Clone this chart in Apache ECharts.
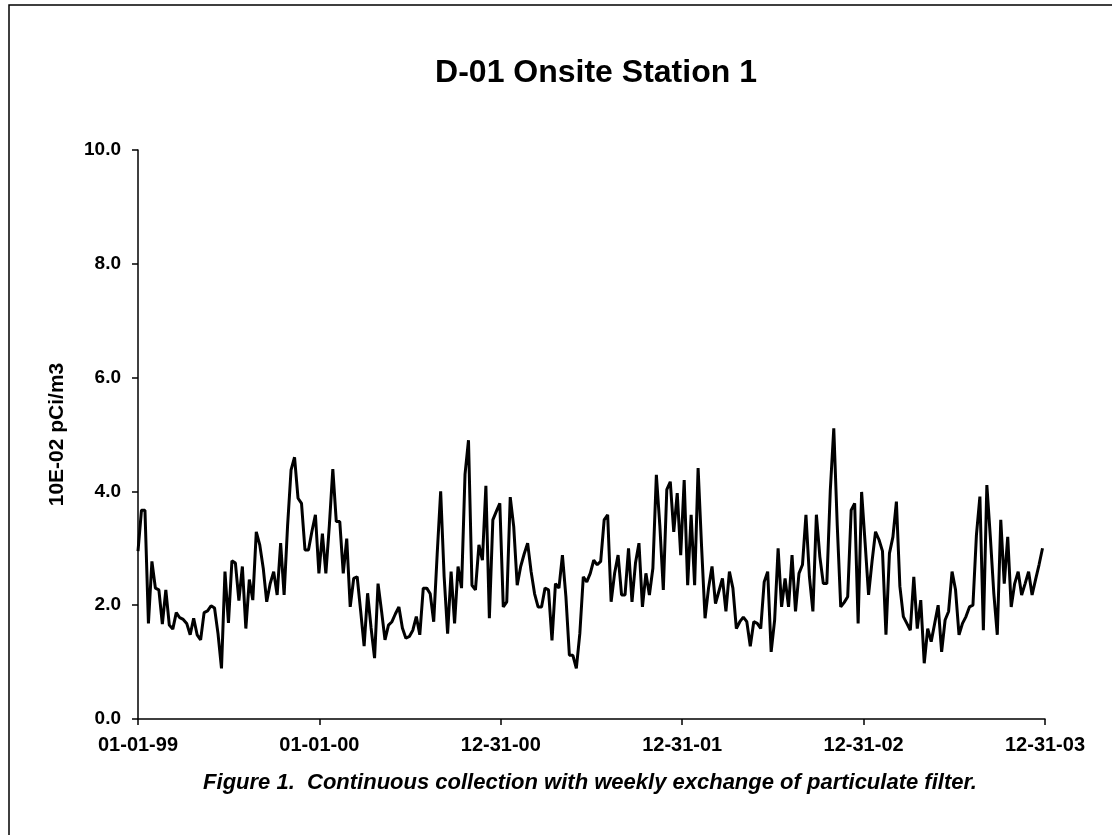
<!DOCTYPE html>
<html>
<head>
<meta charset="utf-8">
<script src="https://cdn.jsdelivr.net/npm/echarts@6/dist/echarts.min.js"></script>
<style>
html,body{margin:0;padding:0;background:#fff;}
#chart{width:1112px;height:835px;}
</style>
</head>
<body>
<div id="chart"></div>
<script>
// ---- data (weekly samples, 10E-02 pCi/m3) ----
const startDate = '1999-01-01';
const sampleIntervalDays = 7;
const xTickLabels = ['01-01-99', '01-01-00', '12-31-00', '12-31-01', '12-31-02', '12-31-03'];
const yTickValues = [0, 2, 4, 6, 8, 10];

const values1999 = [2.95, 3.67, 3.67, 1.68, 2.77, 2.3, 2.27, 1.67, 2.27, 1.65, 1.58, 1.87, 1.78, 1.75, 1.68, 1.48,
  1.77, 1.48, 1.39, 1.87, 1.9, 1.99, 1.95, 1.5, 0.89, 2.59, 1.69, 2.78, 2.74, 2.08, 2.68, 1.59, 2.45, 2.09, 3.29, 3.06,
  2.65, 2.06, 2.38, 2.59, 2.18, 3.09, 2.18, 3.4, 4.38, 4.6, 3.88, 3.79, 2.97, 2.97, 3.3, 3.59];
const values2000 = [2.56, 3.26, 2.56, 3.4, 4.39, 3.47, 3.47, 2.56, 3.17, 1.97, 2.47, 2.5, 1.9, 1.28, 2.21, 1.6,
  1.07, 2.38, 1.9, 1.39, 1.65, 1.71, 1.85, 1.97, 1.6, 1.42, 1.45, 1.56, 1.8, 1.48, 2.3, 2.3, 2.2, 1.71, 2.9, 4.0,
  2.5, 1.5, 2.59, 1.68, 2.68, 2.3, 4.3, 4.9, 2.35, 2.27, 3.06, 2.79, 4.1, 1.77, 3.5, 3.65];
const values2001 = [3.79, 1.97, 2.06, 3.9, 3.38, 2.35, 2.68, 2.9, 3.09, 2.59, 2.2, 1.97, 1.97, 2.3, 2.27, 1.38,
  2.38, 2.3, 2.88, 2.15, 1.12, 1.12, 0.89, 1.5, 2.5, 2.41, 2.56, 2.79, 2.71, 2.77, 3.5, 3.59, 2.06, 2.56, 2.88, 2.18,
  2.18, 3.0, 2.06, 2.74, 3.09, 1.97, 2.56, 2.18, 2.65, 4.29, 3.4, 2.27, 4.03, 4.17, 3.29, 3.97];
const values2002 = [2.88, 4.2, 2.35, 3.59, 2.35, 4.41, 3.03, 1.77, 2.3, 2.68, 2.03, 2.25, 2.47, 1.89, 2.59, 2.3,
  1.59, 1.71, 1.79, 1.71, 1.28, 1.71, 1.68, 1.59, 2.41, 2.59, 1.18, 1.74, 3.0, 1.97, 2.47, 1.97, 2.88, 1.89, 2.56, 2.71,
  3.59, 2.5, 1.89, 3.59, 2.85, 2.38, 2.38, 4.02, 5.11, 3.4, 1.97, 2.05, 2.15, 3.67, 3.79, 1.68];
const values2003 = [3.99, 3.1, 2.18, 2.77, 3.29, 3.15, 2.95, 1.48, 2.91, 3.2, 3.82, 2.33, 1.8, 1.68, 1.56, 2.5,
  1.59, 2.09, 0.98, 1.59, 1.36, 1.68, 2.0, 1.18, 1.74, 1.89, 2.59, 2.27, 1.48, 1.68, 1.8, 1.97, 2.0, 3.23, 3.91, 1.56,
  4.11, 3.2, 2.21, 1.48, 3.5, 2.38, 3.2, 1.97, 2.38, 2.59, 2.18, 2.38, 2.59, 2.18, 2.45, 2.71, 3.0];

const allValues = [].concat(values1999, values2000, values2001, values2002, values2003);
// x = days since start date (weekly samples)
const seriesData = allValues.map((v, i) => [i * sampleIntervalDays, v]);
const daySpan = 1825; // 01-01-99 .. 12-31-03
const tickStep = 365;

const FONT = '"Liberation Sans", Arial, Helvetica, sans-serif';
const chart = echarts.init(document.getElementById('chart'), null, {renderer: 'canvas'});
chart.setOption({
  backgroundColor: '#ffffff',
  animation: false,
  title: {
    text: 'D-01 Onsite Station 1',
    left: 591, top: 52, textAlign: 'center',
    textStyle: {fontFamily: FONT, fontWeight: 'bold', fontSize: 32, color: '#000'}
  },
  graphic: [
    {type: 'rect', shape: {x: 9, y: 5, width: 1200, height: 900},
     style: {fill: 'none', stroke: '#000', lineWidth: 1.5}, silent: true},
    {type: 'text', x: 590, y: 772,
     style: {text: 'Figure 1.  Continuous collection with weekly exchange of particulate filter.',
       font: 'italic bold 22px ' + FONT, fill: '#000', textAlign: 'center'}}
  ],
  grid: {left: 138, right: 67, top: 150, bottom: 116, containLabel: false},
  xAxis: {
    type: 'value', min: 0, max: daySpan, interval: tickStep,
    axisLine: {show: true, onZero: false, lineStyle: {color: '#000', width: 1.5}},
    axisTick: {show: true, length: 6, lineStyle: {color: '#000', width: 1.5}},
    splitLine: {show: false},
    axisLabel: {
      margin: 16, color: '#000', fontFamily: FONT, fontWeight: 'bold', fontSize: 20,
      formatter: v => xTickLabels[Math.round(v / tickStep)] || ''
    }
  },
  yAxis: {
    type: 'value', min: 0, max: 10, interval: 2,
    name: '10E-02 pCi/m3', nameLocation: 'middle', nameGap: 70, nameRotate: 90,
    nameTextStyle: {color: '#000', fontFamily: FONT, fontWeight: 'bold', fontSize: 21},
    axisLine: {show: true, lineStyle: {color: '#000', width: 1.5}},
    axisTick: {show: true, length: 6, lineStyle: {color: '#000', width: 1.5}},
    splitLine: {show: false},
    axisLabel: {
      margin: 17, color: '#000', fontFamily: FONT, fontWeight: 'bold', fontSize: 19,
      formatter: v => (yTickValues.indexOf(v) >= 0 ? v.toFixed(1) : '')
    }
  },
  series: [{
    type: 'line', data: seriesData, showSymbol: false, symbol: 'none',
    lineStyle: {color: '#000', width: 3}, silent: true
  }]
});
</script>
</body>
</html>
